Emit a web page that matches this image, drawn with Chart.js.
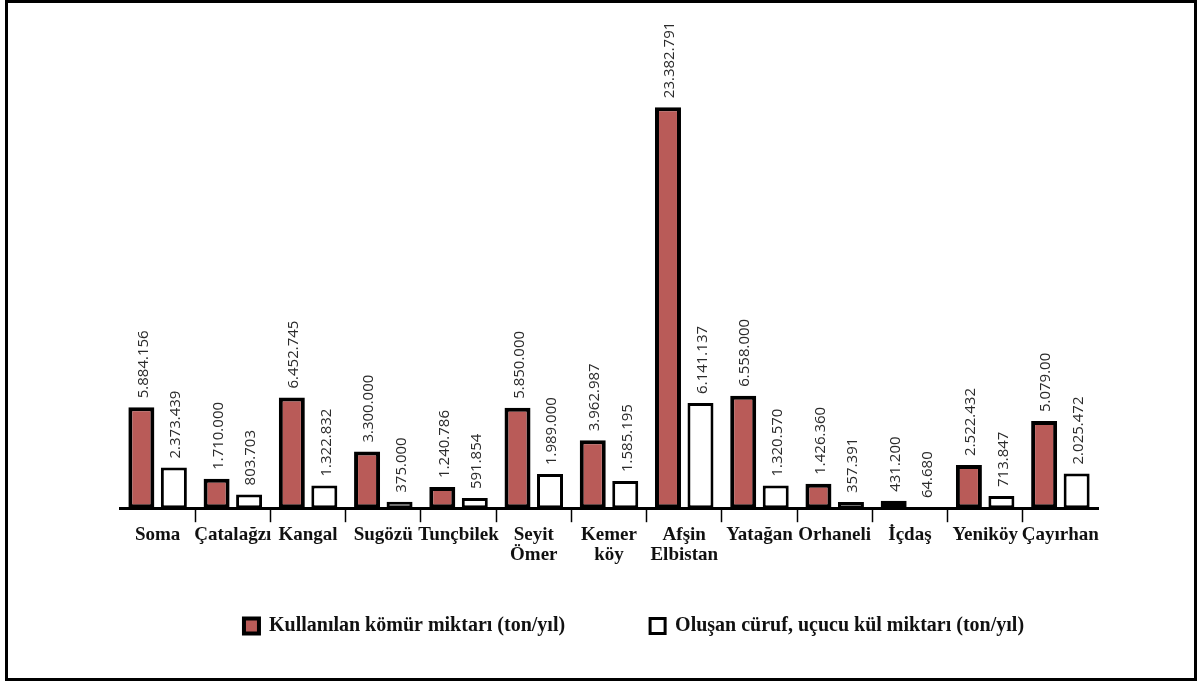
<!DOCTYPE html>
<html lang="tr">
<head>
<meta charset="UTF-8">
<title>Kullanılan kömür ve oluşan kül miktarları</title>
<script src="https://cdn.jsdelivr.net/npm/chart.js"></script>
<style>
  html, body { margin: 0; padding: 0; background: #fff; }
  #frame { position: absolute; left: 5px; top: 0; width: 1192px; height: 681px;
           border: 3px solid #000; box-sizing: border-box; }
  #frame canvas { display: block; }
</style>
</head>
<body>
<div id="frame"><canvas id="chart" width="1186" height="675"></canvas></div>
<script>
// plants (multi-line names kept as arrays)
const plants = [['Soma'], ['Çatalağzı'], ['Kangal'], ['Sugözü'], ['Tunçbilek'],
                ['Seyit', 'Ömer'], ['Kemer', 'köy'], ['Afşin', 'Elbistan'], ['Yatağan'],
                ['Orhaneli'], ['İçdaş'], ['Yeniköy'], ['Çayırhan']];

// ton/yıl
const coal = [5884156, 1710000, 6452745, 3300000, 1240786, 5850000, 3962987,
              23382791, 6558000, 1426360, 431200, 2522432, 5079000];
const ash  = [2373439, 803703, 1322832, 375000, 591854, 1989000, 1585195,
              6141137, 1320570, 357391, 64680, 713847, 2025472];

const coalName = 'Kullanılan kömür miktarı (ton/yıl)';
const ashName  = 'Oluşan cüruf, uçucu kül miktarı (ton/yıl)';

// numbers printed with dots, like the source
function fmt(v) {
    return String(v).replace(/\B(?=(\d{3})+(?!\d))/g, '.');
}
const coalText = coal.map(fmt);
coalText[12] = '5.079.00'; // printed this way in the original
const ashText = ash.map(fmt);
const printed = [coalText, ashText];

// vertical value labels above each bar
const valueLabels = {
    id: 'valueLabels',
    afterDatasetsDraw(chart) {
        const ctx = chart.ctx;
        ctx.save();
        ctx.font = '15px "Open Sans"';
        ctx.fillStyle = '#2b2b2b';
        ctx.textAlign = 'left';
        ctx.textBaseline = 'middle';
        chart.data.datasets.forEach((ds, di) => {
            chart.getDatasetMeta(di).data.forEach((bar, i) => {
                ctx.save();
                ctx.translate(bar.x + 2, bar.y - 9);
                ctx.rotate(-Math.PI / 2);
                ctx.fillText(printed[di][i], 0, 0);
                ctx.restore();
            });
        });
        ctx.restore();
    }
};

// legend sits a bit right of the plot centre in the source
const legendShift = {
    id: 'legendShift',
    afterLayout(chart) {
        chart.legend.left += 25;
        chart.legend.right += 25;
    }
};

const chart = new Chart(document.getElementById('chart'), {
    type: 'bar',
    data: {
        labels: plants,
        datasets: [{
            label: coalName,
            data: coal,
            backgroundColor: '#b95b58',
            borderColor: '#000',
            borderWidth: 4,
            borderSkipped: false,
            categoryPercentage: 0.864,
            barPercentage: 0.8
        }, {
            label: ashName,
            data: ash,
            backgroundColor: '#fff',
            borderColor: '#000',
            borderWidth: 3,
            borderSkipped: false,
            categoryPercentage: 0.864,
            barPercentage: 0.8
        }]
    },
    options: {
        responsive: false,
        animation: false,
        layout: { padding: { left: 112, right: 96, top: 37, bottom: 32 } },
        scales: {
            x: {
                afterFit(scale) { scale.height += 23; },
                border: { display: true, color: '#000', width: 3 },
                grid: {
                    offset: true,
                    drawOnChartArea: false,
                    drawTicks: true,
                    tickLength: 14,
                    tickWidth: 1.5,
                    tickColor: c => (c.index === undefined || c.index === 0) ? 'rgba(0,0,0,0)' : '#000'
                },
                ticks: {
                    autoSkip: false,
                    maxRotation: 0,
                    minRotation: 0,
                    padding: 2,
                    color: '#111',
                    font: { family: '"Liberation Serif"', weight: 'bold', size: 19, lineHeight: 1.1 }
                }
            },
            y: {
                display: false,
                min: 0,
                max: 27300000
            }
        },
        plugins: {
            legend: {
                position: 'bottom',
                labels: {
                    color: '#111',
                    boxWidth: 15,
                    boxHeight: 15,
                    padding: 25,
                    font: { family: '"Liberation Serif"', weight: 'bold', size: 20 },
                    generateLabels(chart) {
                        const items = Chart.defaults.plugins.legend.labels.generateLabels(chart);
                        items[0].text += '\u2003\u2003\u2003';
                        return items;
                    }
                }
            },
            tooltip: { enabled: false }
        }
    },
    plugins: [valueLabels, legendShift]
});
</script>
</body>
</html>
